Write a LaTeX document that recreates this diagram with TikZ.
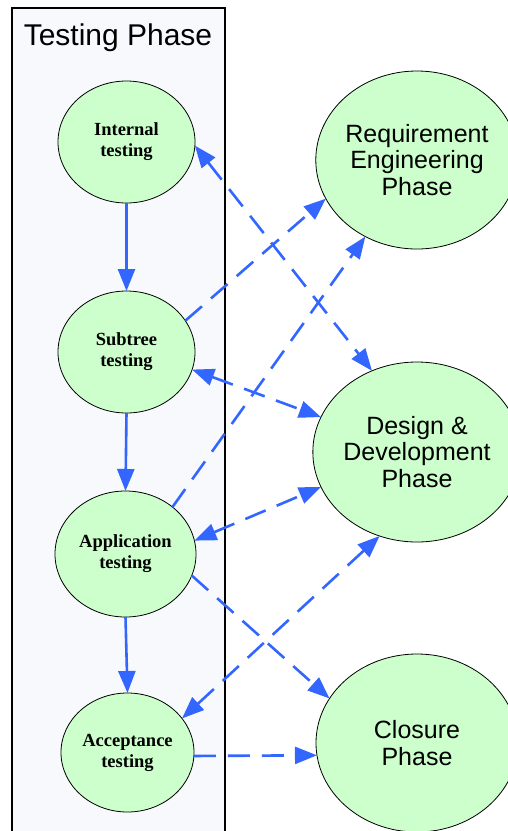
\documentclass[tikz,border=0pt]{standalone}
\usepackage{fontspec}
\setmainfont{Liberation Serif}
\setsansfont{Liberation Sans}
\usetikzlibrary{shapes.geometric,arrows.meta}
\definecolor{arrowblue}{RGB}{51,102,255}
\definecolor{nodegreen}{RGB}{204,255,204}
\definecolor{boxfill}{RGB}{248,249,252}
\begin{document}
\begin{tikzpicture}[x=1pt,y=-1pt,
  testnode/.style={ellipse, draw=black, line width=0.8pt, fill=nodegreen, inner sep=0pt, outer sep=0pt, align=center, font=\fontsize{18.5}{21}\selectfont\bfseries},
  phasenode/.style={ellipse, draw=black, line width=0.8pt, fill=nodegreen, inner sep=0pt, outer sep=0pt, align=center, minimum width=202pt, font=\sffamily\fontsize{25}{26.5}\selectfont},
  flow/.style={draw=arrowblue, line width=2.6pt, -{Triangle[length=22pt,width=17pt]}},
  link/.style={flow, dash pattern=on 22pt off 12pt},
  twoway/.style={link, {Triangle[length=22pt,width=17pt]}-{Triangle[length=22pt,width=17pt]}}
]
\useasboundingbox (0,0) rectangle (507,831);
\draw[line width=1.8pt, fill=boxfill] (12,8) rectangle (225,845);
\node[anchor=base, font=\sffamily\fontsize{30}{32}\selectfont] (title) at (118,45) {Testing Phase};

\node[testnode, minimum width=137pt, minimum height=122pt] (int) at (126.5,142) {Internal\\testing};
\node[testnode, minimum width=137pt, minimum height=122pt] (sub) at (126.5,352) {Subtree\\testing};
\node[testnode, minimum width=141pt, minimum height=126pt] (app) at (125.5,554) {Application\\testing};
\node[testnode, minimum width=133pt, minimum height=119pt] (acc) at (127.5,752.5) {Acceptance\\testing};

\node[phasenode, minimum height=178pt] (req) at (417,160) {Requirement\\Engineering\\Phase};
\node[phasenode, minimum height=180pt] (dev) at (417,452) {Design \&\\Development\\Phase};
\node[phasenode, minimum height=178pt] (clo) at (417,743) {Closure\\Phase};

\draw[flow] (int.south) -- (sub.north);
\draw[flow] (sub.south) -- (app.north);
\draw[flow] (app.south) -- (acc.north);

\draw[twoway] (int.-3.3) -- (dev.119.4);
\draw[link] (sub.28.3) -- (req.203.5);
\draw[link] (app.45.3) -- (req.236.3);
\draw[twoway] (sub.-15.1) -- (dev.160.7);
\draw[twoway] (app.11.2) -- (dev.200.2);
\draw[link] (app.-18.8) -- (clo.153.4);
\draw[twoway] (acc.32.1) -- (dev.246.5);
\draw[link] (acc.-3) -- (clo.187.3);
\end{tikzpicture}
\end{document}
